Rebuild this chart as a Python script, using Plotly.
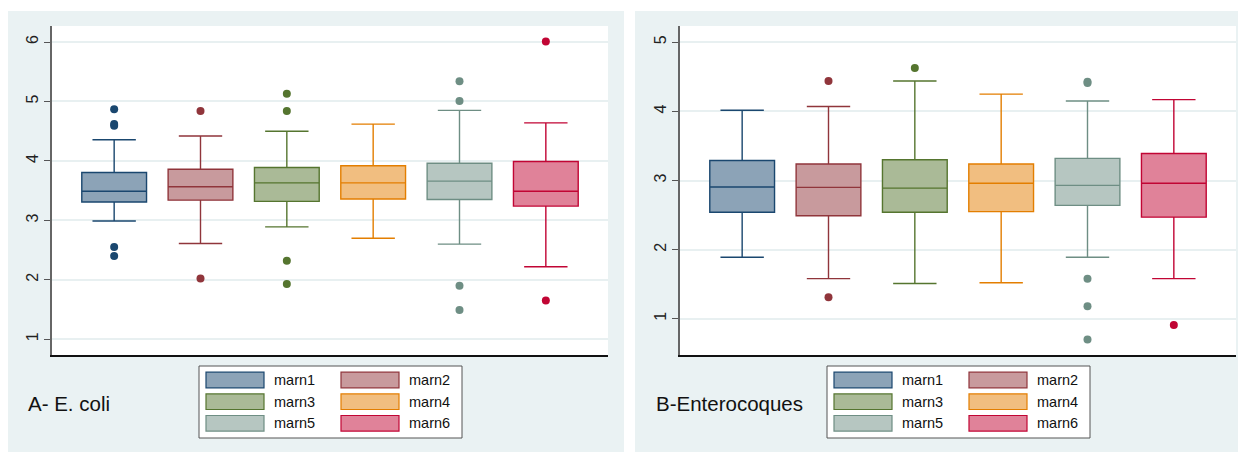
import plotly.graph_objects as go

# ---- data -------------------------------------------------------------
groups = ["marn1", "marn2", "marn3", "marn4", "marn5", "marn6"]

# Panel A: E. coli (log10 values)
ecoli_low = [2.99, 2.61, 2.89, 2.70, 2.60, 2.22]
ecoli_q1 = [3.31, 3.34, 3.32, 3.36, 3.35, 3.24]
ecoli_median = [3.49, 3.565, 3.63, 3.63, 3.66, 3.49]
ecoli_q3 = [3.806, 3.86, 3.89, 3.92, 3.96, 3.99]
ecoli_high = [4.356, 4.42, 4.50, 4.62, 4.85, 4.64]
ecoli_outliers = [
    [4.87, 4.62, 4.59, 2.55, 2.40],
    [4.84, 2.02],
    [5.13, 4.84, 2.32, 1.93],
    [],
    [5.34, 5.01, 1.90, 1.49],
    [6.01, 1.65],
]

# Panel B: Enterocoques (log10 values)
entero_low = [1.89, 1.58, 1.51, 1.52, 1.89, 1.58]
entero_q1 = [2.54, 2.49, 2.54, 2.55, 2.64, 2.47]
entero_median = [2.906, 2.90, 2.89, 2.96, 2.93, 2.96]
entero_q3 = [3.29, 3.24, 3.30, 3.24, 3.32, 3.39]
entero_high = [4.016, 4.07, 4.44, 4.25, 4.15, 4.17]
entero_outliers = [
    [],
    [4.44, 1.31],
    [4.63],
    [],
    [4.43, 4.41, 1.58, 1.18, 0.70],
    [0.91],
]

panel_titles = ["A- E. coli", "B-Enterocoques"]
yticks_a = [1, 2, 3, 4, 5, 6]
yticks_b = [1, 2, 3, 4, 5]

# ---- styling ----------------------------------------------------------
line_colors = ["#1a476f", "#90353b", "#55752f", "#e37e00", "#6e8e84", "#c10534"]
fill_colors = ["#8ca3b7", "#c89a9d", "#aaba97", "#f1be80", "#b6c6c1", "#e08299"]
panel_bg = "#eaf2f3"
grid_col = "#e8f0f1"
FONT = "Liberation Sans, Arial, sans-serif"

W, H = 1239, 452


def fx(x):
    return x / W


def fy(y):
    return 1 - y / H


fig = go.Figure()

panels = [
    dict(low=ecoli_low, q1=ecoli_q1, med=ecoli_median, q3=ecoli_q3, high=ecoli_high,
         out=ecoli_outliers, xa="x", ya="y"),
    dict(low=entero_low, q1=entero_q1, med=entero_median, q3=entero_q3, high=entero_high,
         out=entero_outliers, xa="x2", ya="y2"),
]

for p in panels:
    for i, name in enumerate(groups):
        pos = i + 1
        fig.add_trace(go.Box(
            x=[pos], q1=[p["q1"][i]], median=[p["med"][i]], q3=[p["q3"][i]],
            lowerfence=[p["low"][i]], upperfence=[p["high"][i]],
            name=name, width=0.75, whiskerwidth=0.67,
            fillcolor=fill_colors[i], line=dict(color=line_colors[i], width=1.4),
            boxpoints=False, showlegend=False, xaxis=p["xa"], yaxis=p["ya"],
        ))
        if p["out"][i]:
            fig.add_trace(go.Scatter(
                x=[pos] * len(p["out"][i]), y=p["out"][i], mode="markers",
                marker=dict(color=line_colors[i], size=8, line=dict(width=0)),
                showlegend=False, xaxis=p["xa"], yaxis=p["ya"],
            ))

# panel layout in pixels
plot_top, plot_bottom = 26, 355
left_plot = (52, 608)
right_plot = (680, 1236)

xaxis_common = dict(range=[0.28, 6.72], showline=True, linecolor="#111111", linewidth=1.5,
                    showticklabels=False, ticks="", showgrid=False, zeroline=False,
                    fixedrange=True)
yaxis_common = dict(showline=True, linecolor="#666666", linewidth=1.6, ticks="outside",
                    ticklen=6, tickcolor="#555555", tickwidth=1, tickangle=-90,
                    showgrid=True, gridcolor=grid_col, gridwidth=1.5, zeroline=False,
                    tickfont=dict(family=FONT, size=16, color="#222222"))

fig.update_layout(
    width=W, height=H,
    margin=dict(l=0, r=0, t=0, b=0),
    paper_bgcolor="white", plot_bgcolor="white",
    showlegend=False,
    xaxis=dict(domain=[fx(left_plot[0]), fx(left_plot[1])], anchor="y", **xaxis_common),
    yaxis=dict(domain=[fy(plot_bottom), fy(plot_top)], anchor="x", range=[0.735, 6.27],
               tickvals=yticks_a, **yaxis_common),
    xaxis2=dict(domain=[fx(right_plot[0]), fx(right_plot[1])], anchor="y2", **xaxis_common),
    yaxis2=dict(domain=[fy(plot_bottom), fy(plot_top)], anchor="x2", range=[0.475, 5.236],
                tickvals=yticks_b, **yaxis_common),
)

shapes = []
annotations = []

# panel backgrounds, with white plotting regions on top
for x0, x1 in [(8, 624), (635, 1238)]:
    shapes.append(dict(type="rect", xref="paper", yref="paper", layer="below",
                       x0=fx(x0), x1=fx(x1), y0=fy(452), y1=fy(11),
                       fillcolor=panel_bg, line=dict(width=0)))
for x0, x1 in [left_plot, right_plot]:
    shapes.append(dict(type="rect", xref="paper", yref="paper", layer="below",
                       x0=fx(x0), x1=fx(x1), y0=fy(plot_bottom), y1=fy(plot_top),
                       fillcolor="white", line=dict(width=0)))

# legends and panel captions
legend_lefts = [199, 827]
caption_x = [26, 654]
row_centers = [380, 401.7, 423.3]
for k, lx in enumerate(legend_lefts):
    shapes.append(dict(type="rect", xref="paper", yref="paper",
                       x0=fx(lx), x1=fx(lx + 263), y0=fy(438), y1=fy(366),
                       fillcolor="white", line=dict(color="#555555", width=1)))
    for i, name in enumerate(groups):
        row, col = divmod(i, 2)
        sx = lx + 7 + col * 135
        cy = row_centers[row]
        shapes.append(dict(type="rect", xref="paper", yref="paper",
                           x0=fx(sx), x1=fx(sx + 58), y0=fy(cy + 7.8), y1=fy(cy - 7.8),
                           fillcolor=fill_colors[i],
                           line=dict(color=line_colors[i], width=1.2)))
        annotations.append(dict(xref="paper", yref="paper", x=fx(sx + 66), y=fy(cy),
                                xanchor="left", yanchor="middle", showarrow=False,
                                text=name, font=dict(family=FONT, size=14.5, color="#111111")))
    annotations.append(dict(xref="paper", yref="paper", x=fx(caption_x[k]), y=fy(403),
                            xanchor="left", yanchor="middle", showarrow=False,
                            text=panel_titles[k],
                            font=dict(family=FONT, size=20.5, color="#111111")))

fig.update_layout(shapes=shapes, annotations=annotations)

fig.write_html("out.html")
